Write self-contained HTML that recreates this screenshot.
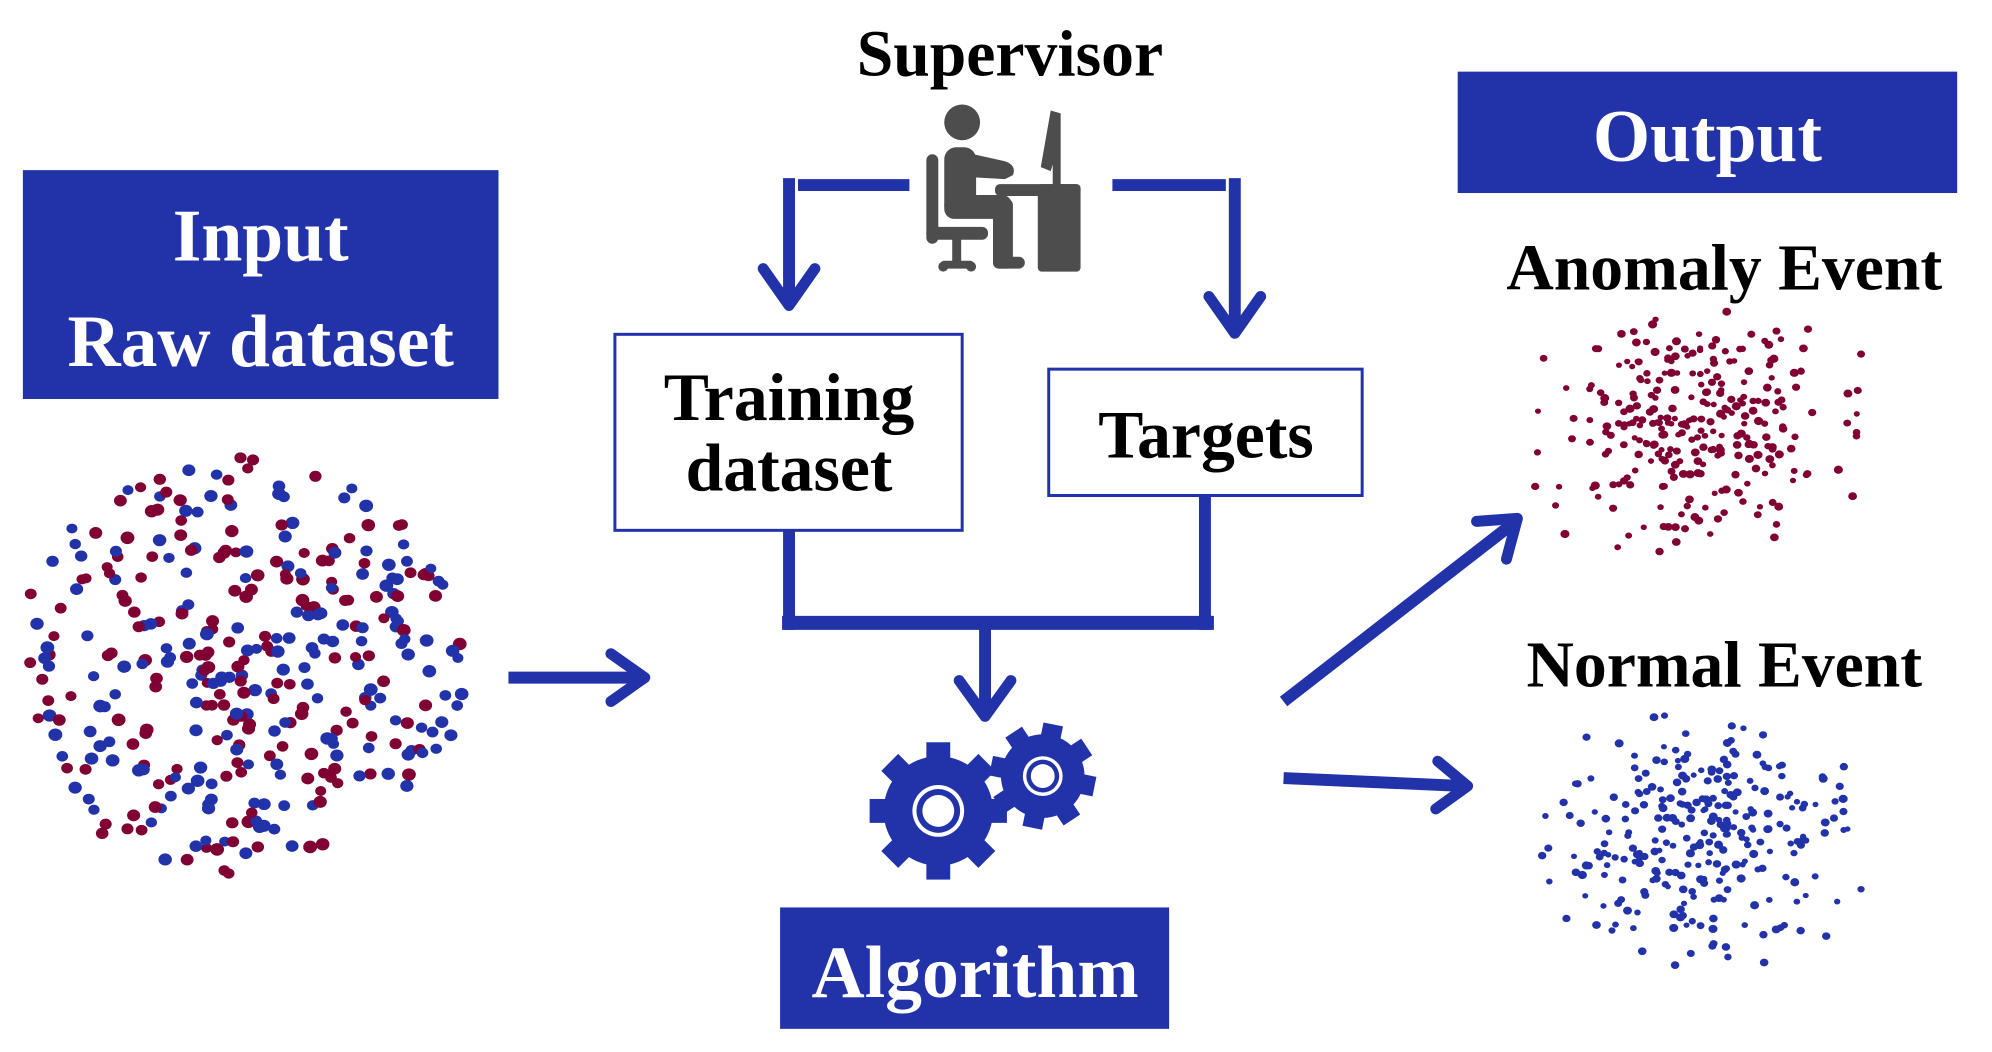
<!DOCTYPE html>
<html><head><meta charset="utf-8"><style>
html,body{margin:0;padding:0;background:#fff}
svg{display:block}
text{font-family:"Liberation Serif",serif;font-weight:bold}
</style></head><body>
<svg id="s" width="1992" height="1052" viewBox="0 0 1992 1052" xmlns="http://www.w3.org/2000/svg">
<rect width="1992" height="1052" fill="#fff"/>
<g transform="scale(0.995)">
<g id="dots"></g>
<!-- Input box -->
<rect x="23" y="171" width="478" height="230" fill="#2233aa"/>
<text x="262" y="262" font-size="74" fill="#fff" text-anchor="middle">Input</text>
<text x="262" y="368" font-size="74" fill="#fff" text-anchor="middle">Raw dataset</text>
<!-- Supervisor -->
<text x="1015" y="76" font-size="66" fill="#000" text-anchor="middle">Supervisor</text>
<g fill="#4d4d4d" stroke="none">
  <circle cx="967" cy="123" r="18"/>
  <rect x="949" y="148" width="32" height="70" rx="12"/>
  <path d="M965 152 L1010 162 Q1022 166 1018 176 L1010 180 L975 178 Z"/>
  <rect x="949" y="196" width="68" height="24" rx="10"/>
  <rect x="998" y="200" width="20" height="70" rx="6"/>
  <rect x="998" y="258" width="32" height="12" rx="6"/>
  <rect x="931" y="155" width="12" height="90" rx="6"/>
  <rect x="931" y="228" width="62" height="13" rx="6"/>
  <rect x="957" y="240" width="9" height="25" />
  <rect x="945" y="262" width="34" height="8" rx="4"/>
  <circle cx="948" cy="268" r="5"/><circle cx="976" cy="268" r="5"/>
  <rect x="1000" y="185" width="86" height="12" rx="5"/>
  <rect x="1043" y="185" width="43" height="88" rx="4"/>
  <path d="M1056 111 L1066 114 L1066 140 L1056 172 L1046 168 Z"/>
  <rect x="1058" y="140" width="8" height="50"/>
</g>
<!-- connectors -->
<g stroke="#2233aa" stroke-width="12" fill="none" stroke-linecap="butt">
  <line x1="802" y1="186" x2="914" y2="186"/>
  <line x1="793" y1="179" x2="793" y2="305"/>
  <line x1="1118" y1="186" x2="1232" y2="186"/>
  <line x1="1241" y1="179" x2="1241" y2="332"/>
  <line x1="793" y1="533" x2="793" y2="633"/>
  <line x1="1211" y1="498" x2="1211" y2="633"/>
  <line x1="786" y1="626" x2="1220" y2="626" stroke-width="14"/>
  <line x1="990" y1="626" x2="990" y2="716"/>
  <line x1="511" y1="681" x2="642" y2="681"/>
  <line x1="1290" y1="705" x2="1522" y2="525"/>
  <line x1="1290" y1="782" x2="1472" y2="790"/>
</g>
<g stroke="#2233aa" stroke-width="11" fill="none" stroke-linecap="round" stroke-linejoin="round">
  <polyline points="767,270 793,307 819,270"/>
  <polyline points="1215,298 1241,335 1267,298"/>
  <polyline points="964,684 990,720 1016,684"/>
  <polyline points="614,657 648,681 614,705"/>
  <polyline points="1484,524 1525,521 1514,562"/>
  <polyline points="1445,765 1475,790 1443,813"/>
</g>
<!-- boxes -->
<rect x="618" y="336" width="349" height="197" fill="#fff" stroke="#2233aa" stroke-width="3"/>
<text x="793" y="422" font-size="68" text-anchor="middle">Training</text>
<text x="793" y="493" font-size="68" text-anchor="middle">dataset</text>
<rect x="1054" y="371" width="315" height="127" fill="#fff" stroke="#2233aa" stroke-width="3"/>
<text x="1212" y="460" font-size="68" text-anchor="middle">Targets</text>
<!-- gears -->
<g id="gears"></g>
<!-- Algorithm -->
<rect x="784" y="912" width="391" height="122" fill="#2233aa"/>
<text x="980" y="1002" font-size="74" fill="#fff" text-anchor="middle">Algorithm</text>
<!-- Output -->
<rect x="1465" y="72" width="502" height="122" fill="#2233aa"/>
<text x="1716" y="162" font-size="74" fill="#fff" text-anchor="middle">Output</text>
<text x="1733" y="291" font-size="66" text-anchor="middle">Anomaly Event</text>
<text x="1733" y="690" font-size="66" text-anchor="middle">Normal Event</text>
</g>
</svg>
<script>
var NS="http://www.w3.org/2000/svg";
var seed=12345;function rnd(){seed=(seed*16807)%2147483647;return (seed-1)/2147483646;}
function gauss(){var u=rnd()||1e-6,v=rnd();return Math.sqrt(-2*Math.log(u))*Math.cos(2*Math.PI*v);}
var g=document.getElementById("dots");
function dot(x,y,r,c){var e=document.createElementNS(NS,"ellipse");e.setAttribute("cx",x.toFixed(1));e.setAttribute("cy",y.toFixed(1));e.setAttribute("rx",r);e.setAttribute("ry",(r*0.9).toFixed(1));e.setAttribute("fill",c);g.appendChild(e);}
var R="#800033",B="#2233aa";
for(var i=0;i<360;i++){var a=rnd()*2*Math.PI,d=Math.pow(rnd(),0.55);var x=240+Math.cos(a)*d*230,y=670+Math.sin(a)*d*210;dot(x,y,5.5+rnd()*1.5,rnd()<0.5?R:B);}
function cluster(cx,cy,c,n){for(var i=0;i<n;i++){var x=cx+gauss()*72,y=cy+gauss()*58;if(Math.abs(x-cx)>165||Math.abs(y-cy)>128)continue;dot(x,y,3+rnd()*1.6,c);}}
cluster(1707,432,R,300);cluster(1707,843,B,300);
var gg=document.getElementById("gears");
function gear(cx,cy,rb,ro,tw,n,rot,r1,r2,r3){var p="";for(var i=0;i<n;i++){var a=rot+i*2*Math.PI/n;p+="<rect x='"+(-tw/2)+"' y='"+(-ro)+"' width='"+tw+"' height='"+(ro-rb+6)+"' fill='#2233aa' transform='translate("+cx+","+cy+") rotate("+(a*180/Math.PI)+")'/>";}
p+="<circle cx='"+cx+"' cy='"+cy+"' r='"+rb+"' fill='#2233aa'/>";
p+="<circle cx='"+cx+"' cy='"+cy+"' r='"+r1+"' fill='#fff'/><circle cx='"+cx+"' cy='"+cy+"' r='"+r2+"' fill='#2233aa'/><circle cx='"+cx+"' cy='"+cy+"' r='"+r3+"' fill='#fff'/>";
gg.innerHTML+=p;}
gear(943,815,55,69,24,8,0,26,22,16);
gear(1048,780,42,53,20,8,0.2,20,16.5,12);
</script>
</body></html>
